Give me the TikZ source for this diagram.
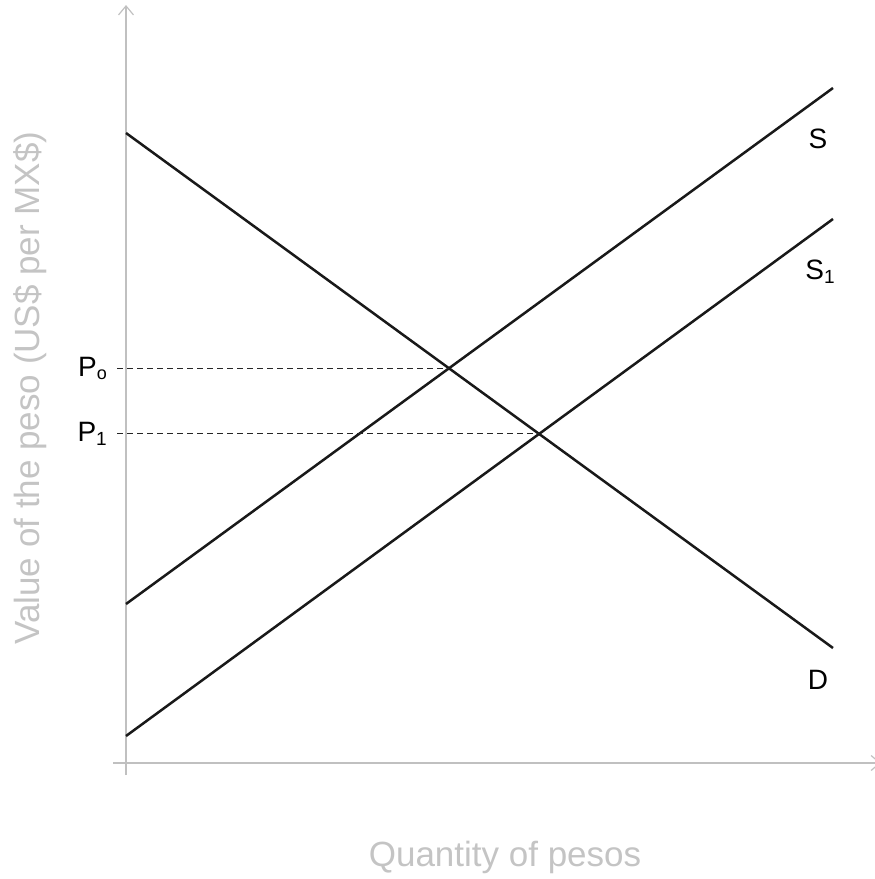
\documentclass[tikz,border=0pt]{standalone}
\usepackage{fontspec}
\setmainfont{Liberation Sans}
\usepackage{tikz}
\usetikzlibrary{arrows.meta,positioning,calc}
\definecolor{axisgray}{RGB}{192,192,192}
\definecolor{labelgray}{RGB}{196,196,196}
\tikzset{
  axis/.style={line width=1.4pt,color=axisgray,-{Straight Barb[length=9pt,width=15pt,line width=1.2pt]}},
  curve/.style={line width=2.5pt,color=black!90},
  guide/.style={line width=1pt,dash pattern=on 6pt off 4pt,color=black!85},
  clabel/.style={font=\fontsize{28}{30}\selectfont,inner sep=0pt},
  alabel/.style={font=\fontsize{35}{38}\selectfont,color=labelgray,inner sep=0pt},
}

\begin{document}
\begin{tikzpicture}[x=1pt,y=-1pt]
  \useasboundingbox (0,0) rectangle (875,879);

  % --- axes ---
  \coordinate (ybot) at (126,775);
  \coordinate (ytop) at (126,5);
  \coordinate (xl) at (113,763);
  \coordinate (xr) at (881,763);
  \draw[axis] (ybot) -- (ytop);
  \draw[axis] (xl) -- (xr);

  % --- demand and supply lines ---
  \coordinate (d0) at (126,133);
  \coordinate (d1) at (833,648);
  \coordinate (s0) at (126,604);
  \coordinate (s1) at (833,88);
  \coordinate (t0) at (126,736);
  \coordinate (t1) at (833,219);
  \draw[curve] (d0) -- (d1);
  \draw[curve] (s0) -- (s1);
  \draw[curve] (t0) -- (t1);

  % --- equilibria ---
  \coordinate (eq0) at (intersection of d0--d1 and s0--s1);
  \coordinate (eq1) at (intersection of d0--d1 and t0--t1);
  \coordinate (g0) at (117,0 |- eq0);
  \coordinate (g1) at (117,0 |- eq1);
  \draw[guide] (g0) -- (eq0);
  \draw[guide] (g1) -- (eq1);

  \node[clabel,anchor=east] (p0) at ($(g0)+(-10,0)$) {P\raisebox{-0.12em}{\fontsize{18}{18}\selectfont o}};
  \node[clabel,anchor=east] (p1) at ($(g1)+(-10,0)$) {P\raisebox{-0.12em}{\fontsize{19}{20}\selectfont 1}};

  % --- curve names ---
  \node[clabel] (slab) at (818,139) {S};
  \node[clabel] (s1lab) at (820,272) {S\raisebox{-0.15em}{\fontsize{19}{20}\selectfont 1}};
  \node[clabel] (dlab) at (818,680) {D};

  % --- axis titles ---
  \node[alabel,rotate=90] (ytitle) at (30,388) {Value of the peso (US\$ per MX\$)};
  \node[alabel] (xtitle) at (505,857) {Quantity of pesos};
\end{tikzpicture}
\end{document}
